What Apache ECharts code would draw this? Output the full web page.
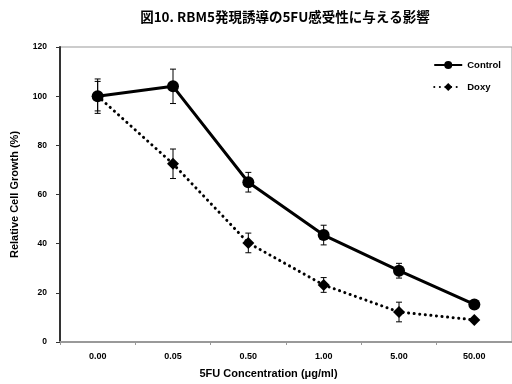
<!DOCTYPE html>
<html>
<head>
<meta charset="utf-8">
<script src="https://cdn.jsdelivr.net/npm/echarts@6/dist/echarts.min.js"></script>
<style>
  html, body { margin: 0; padding: 0; background: #fff; }
  #chart { width: 512px; height: 384px; }
</style>
</head>
<body>
<div id="chart"></div>
<script>
// 横軸のカテゴリ
var concentrations = ["0.00", "0.05", "0.50", "1.00", "5.00", "50.00"];
// Control の平均値と誤差
var controlValues = [100, 104, 65, 43.5, 29, 15.3];
var controlErrors = [7, 7, 4, 4, 3, 1];
// Doxy の平均値と誤差
var doxyValues = [100, 72.5, 40.3, 23.2, 12.2, 9];
var doxyErrors = [6, 6, 4, 3, 4, 0.5];

var font = "'Liberation Sans', Arial, sans-serif";

function errorData(values, errors) {
  return values.map(function (v, i) {
    return [i, v - errors[i], v + errors[i]];
  });
}

// 誤差棒（I字型）
function renderError(params, api) {
  var x = api.value(0);
  var low = api.coord([x, api.value(1)]);
  var high = api.coord([x, api.value(2)]);
  var half = 3;
  var style = { stroke: "#000", lineWidth: 1 };
  return {
    type: "group",
    children: [
      { type: "line", shape: { x1: low[0], y1: low[1], x2: high[0], y2: high[1] }, style: style },
      { type: "line", shape: { x1: low[0] - half, y1: low[1], x2: low[0] + half, y2: low[1] }, style: style },
      { type: "line", shape: { x1: high[0] - half, y1: high[1], x2: high[0] + half, y2: high[1] }, style: style }
    ]
  };
}

var myChart = echarts.init(document.getElementById("chart"));
var option = {
  animation: false,
  title: {
    text: "図10. RBM5発現誘導の5FU感受性に与える影響",
    left: 280,
    textAlign: "center",
    top: 5,
    textStyle: { fontFamily: "'Noto Sans CJK JP', sans-serif", fontWeight: "bold", fontSize: 13.5, color: "#000" }
  },
  legend: {
    data: ["Control", "Doxy"],
    orient: "vertical",
    right: 6,
    top: 55,
    itemWidth: 28,
    itemHeight: 10,
    itemGap: 12,
    textStyle: { fontFamily: font, fontWeight: "bold", fontSize: 9.5, color: "#000" }
  },
  grid: {
    left: 60,
    right: -4,
    top: 47,
    bottom: 42,
    show: true,
    borderColor: "#999",
    borderWidth: 1
  },
  xAxis: {
    type: "category",
    data: concentrations,
    name: "5FU Concentration (μg/ml)",
    nameLocation: "middle",
    nameGap: 26,
    nameTextStyle: { fontFamily: font, fontWeight: "bold", fontSize: 11, color: "#000", padding: [0, 0, 0, -35] },
    axisLine: { lineStyle: { color: "#999", width: 2 } },
    axisTick: { show: true, length: 3, lineStyle: { color: "#999" } },
    axisLabel: { fontFamily: font, fontWeight: "bold", fontSize: 9, color: "#000", margin: 10 },
    splitLine: { show: false }
  },
  yAxis: {
    type: "value",
    min: 0,
    max: 120,
    interval: 20,
    name: "Relative Cell Growth (%)",
    nameLocation: "middle",
    nameGap: 40,
    nameTextStyle: { fontFamily: font, fontWeight: "bold", fontSize: 11, color: "#000" },
    axisLine: { show: true, lineStyle: { color: "#333", width: 2 } },
    axisTick: { show: true, length: 4, lineStyle: { color: "#333" } },
    axisLabel: { fontFamily: font, fontWeight: "bold", fontSize: 8.5, color: "#000", margin: 13 },
    splitLine: { show: false }
  },
  series: [
    {
      name: "Control",
      type: "line",
      data: controlValues,
      symbol: "circle",
      symbolSize: 12,
      itemStyle: { color: "#000" },
      lineStyle: { color: "#000", width: 3 },
      z: 3
    },
    {
      name: "Doxy",
      type: "line",
      data: doxyValues,
      symbol: "diamond",
      symbolSize: 12,
      itemStyle: { color: "#000" },
      lineStyle: { color: "#000", width: 3, type: [0.1, 5.5], cap: "round" },
      z: 3
    },
    {
      type: "custom",
      renderItem: renderError,
      data: errorData(controlValues, controlErrors),
      z: 4
    },
    {
      type: "custom",
      renderItem: renderError,
      data: errorData(doxyValues, doxyErrors),
      z: 4
    }
  ]
};
option && myChart.setOption(option);
</script>
</body>
</html>
